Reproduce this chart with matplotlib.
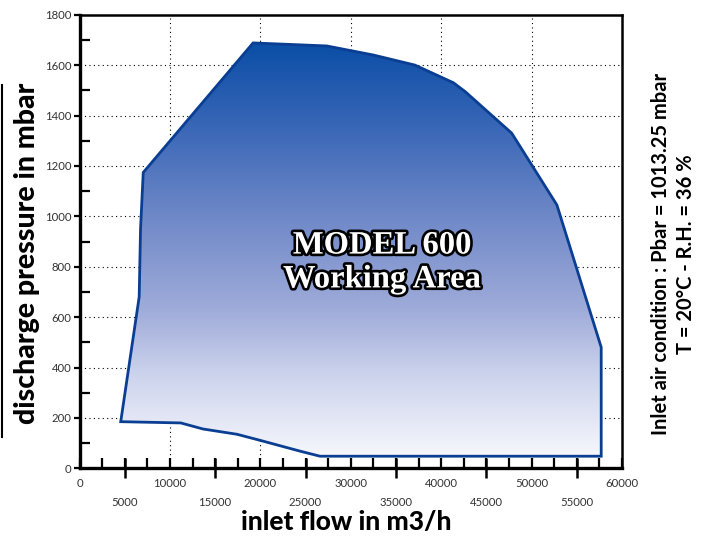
import matplotlib
matplotlib.use("Agg")
import matplotlib.pyplot as plt
import numpy as np
from matplotlib.patches import Polygon
from matplotlib.colors import LinearSegmentedColormap
from matplotlib.lines import Line2D
import matplotlib.patheffects as pe

# ---- data ----
flow = [4560, 11200, 13660, 17420, 19970, 24400, 26600, 57700, 57700, 52800,
        47800, 42650, 41350, 37100, 32500, 27350, 19200, 7050, 6750, 6600]
pressure = [185, 180, 156, 135, 111, 68, 48, 48, 480, 1045,
            1330, 1495, 1530, 1600, 1640, 1676, 1688, 1174, 950, 680]
x_major = [0, 10000, 20000, 30000, 40000, 50000, 60000]
x_odd = [5000, 15000, 25000, 35000, 45000, 55000]
y_major = [0, 200, 400, 600, 800, 1000, 1200, 1400, 1600, 1800]

FONT = "Lato"

fig = plt.figure(figsize=(7.07, 5.37), dpi=100)
ax = fig.add_axes([79.5/707, 1-468.3/537, (622-79.5)/707, (468.3-14.7)/537])
ax.set_xlim(0, 60000)
ax.set_ylim(0, 1800)

# grid
for gx in x_major[1:-1]:
    ax.axvline(gx, color="black", lw=0.8, ls=(0, (1, 3)), zorder=0)
for gy in y_major[1:-1]:
    ax.axhline(gy, color="black", lw=0.8, ls=(0, (1, 3)), zorder=0)

# polygon with gradient
verts = np.column_stack([flow, pressure])
poly = Polygon(verts, closed=True, facecolor="none", edgecolor="#0a3e92",
               lw=2.0, zorder=3, joinstyle="miter")
ax.add_patch(poly)
cmap = LinearSegmentedColormap.from_list("g", [
    (0.0, "#f6f7fc"), (0.2, "#cbd2ec"), (0.35, "#a0acda"),
    (0.6, "#6a85c6"), (0.8, "#3866b6"), (1.0, "#0a4ea6")])
ymin, ymax = min(pressure), max(pressure)
grad = np.linspace(0, 1, 256).reshape(-1, 1)
im = ax.imshow(grad, extent=[min(flow), max(flow), ymin, ymax], origin="lower",
               cmap=cmap, aspect="auto", zorder=2, interpolation="bicubic")
clip = Polygon(verts, closed=True, transform=ax.transData)
im.set_clip_path(clip)
ax.set_xlim(0, 60000)
ax.set_ylim(0, 1800)

# inside text
fig.text(382/707, 1-262/537, "MODEL 600\nWorking Area",
         ha="center", va="center", fontsize=23.5, fontweight="bold",
         family="Liberation Serif", color="white", linespacing=1.12, zorder=5,
         path_effects=[pe.withStroke(linewidth=3.8, foreground="black")])

# spines
for s in ["left", "bottom"]:
    ax.spines[s].set_linewidth(2.4)
for s in ["top", "right"]:
    ax.spines[s].set_linewidth(1.8)

TK = dict(fontsize=8.2, family=FONT, color="#333333")
# ticks
ax.set_xticks(x_major)
ax.set_xticklabels([str(v) for v in x_major], **TK)
ax.set_xticks(np.arange(0, 60001, 2500), minor=True)
ax.tick_params(axis="x", which="major", direction="in", length=7, width=1.6, pad=7)
ax.tick_params(axis="x", which="minor", direction="in", length=7, width=1.6)
ax.set_yticks(y_major)
ax.set_yticklabels([str(v) for v in y_major], **TK)
ax.set_yticks(np.arange(0, 1801, 100), minor=True)
ax.tick_params(axis="y", which="major", direction="out", length=4, width=1.6, pad=2)
ax.tick_params(axis="y", which="minor", direction="in", length=7, width=1.6)

sec = ax.secondary_xaxis("bottom")
sec.spines["bottom"].set_visible(False)
sec.set_xticks(x_odd)
sec.set_xticklabels([str(v) for v in x_odd], **TK)
sec.tick_params(axis="x", direction="inout", length=15, width=1.8, pad=13)

# labels
fig.text(346/707, 1-522/537, "inlet flow in m3/h", ha="center", va="center",
         fontsize=19, fontweight="black", family=FONT)
fig.text(27/707, 1-253/537, "discharge pressure in mbar", ha="center", va="center",
         rotation=90, fontsize=20.5, fontweight="black", family=FONT)
fig.text(661/707, 1-254/537, "Inlet air condition : Pbar = 1013.25 mbar",
         ha="center", va="center", rotation=90, fontsize=14.5, fontweight="bold", family=FONT)
fig.text(686/707, 1-254/537, "T = 20°C - R.H. = 36 %",
         ha="center", va="center", rotation=90, fontsize=14.5, fontweight="bold", family=FONT)

fig.add_artist(Line2D([1.5/707, 1.5/707], [1-85/537, 1-437/537], color="black", lw=1.5))

fig.savefig("out.png", dpi=100)
